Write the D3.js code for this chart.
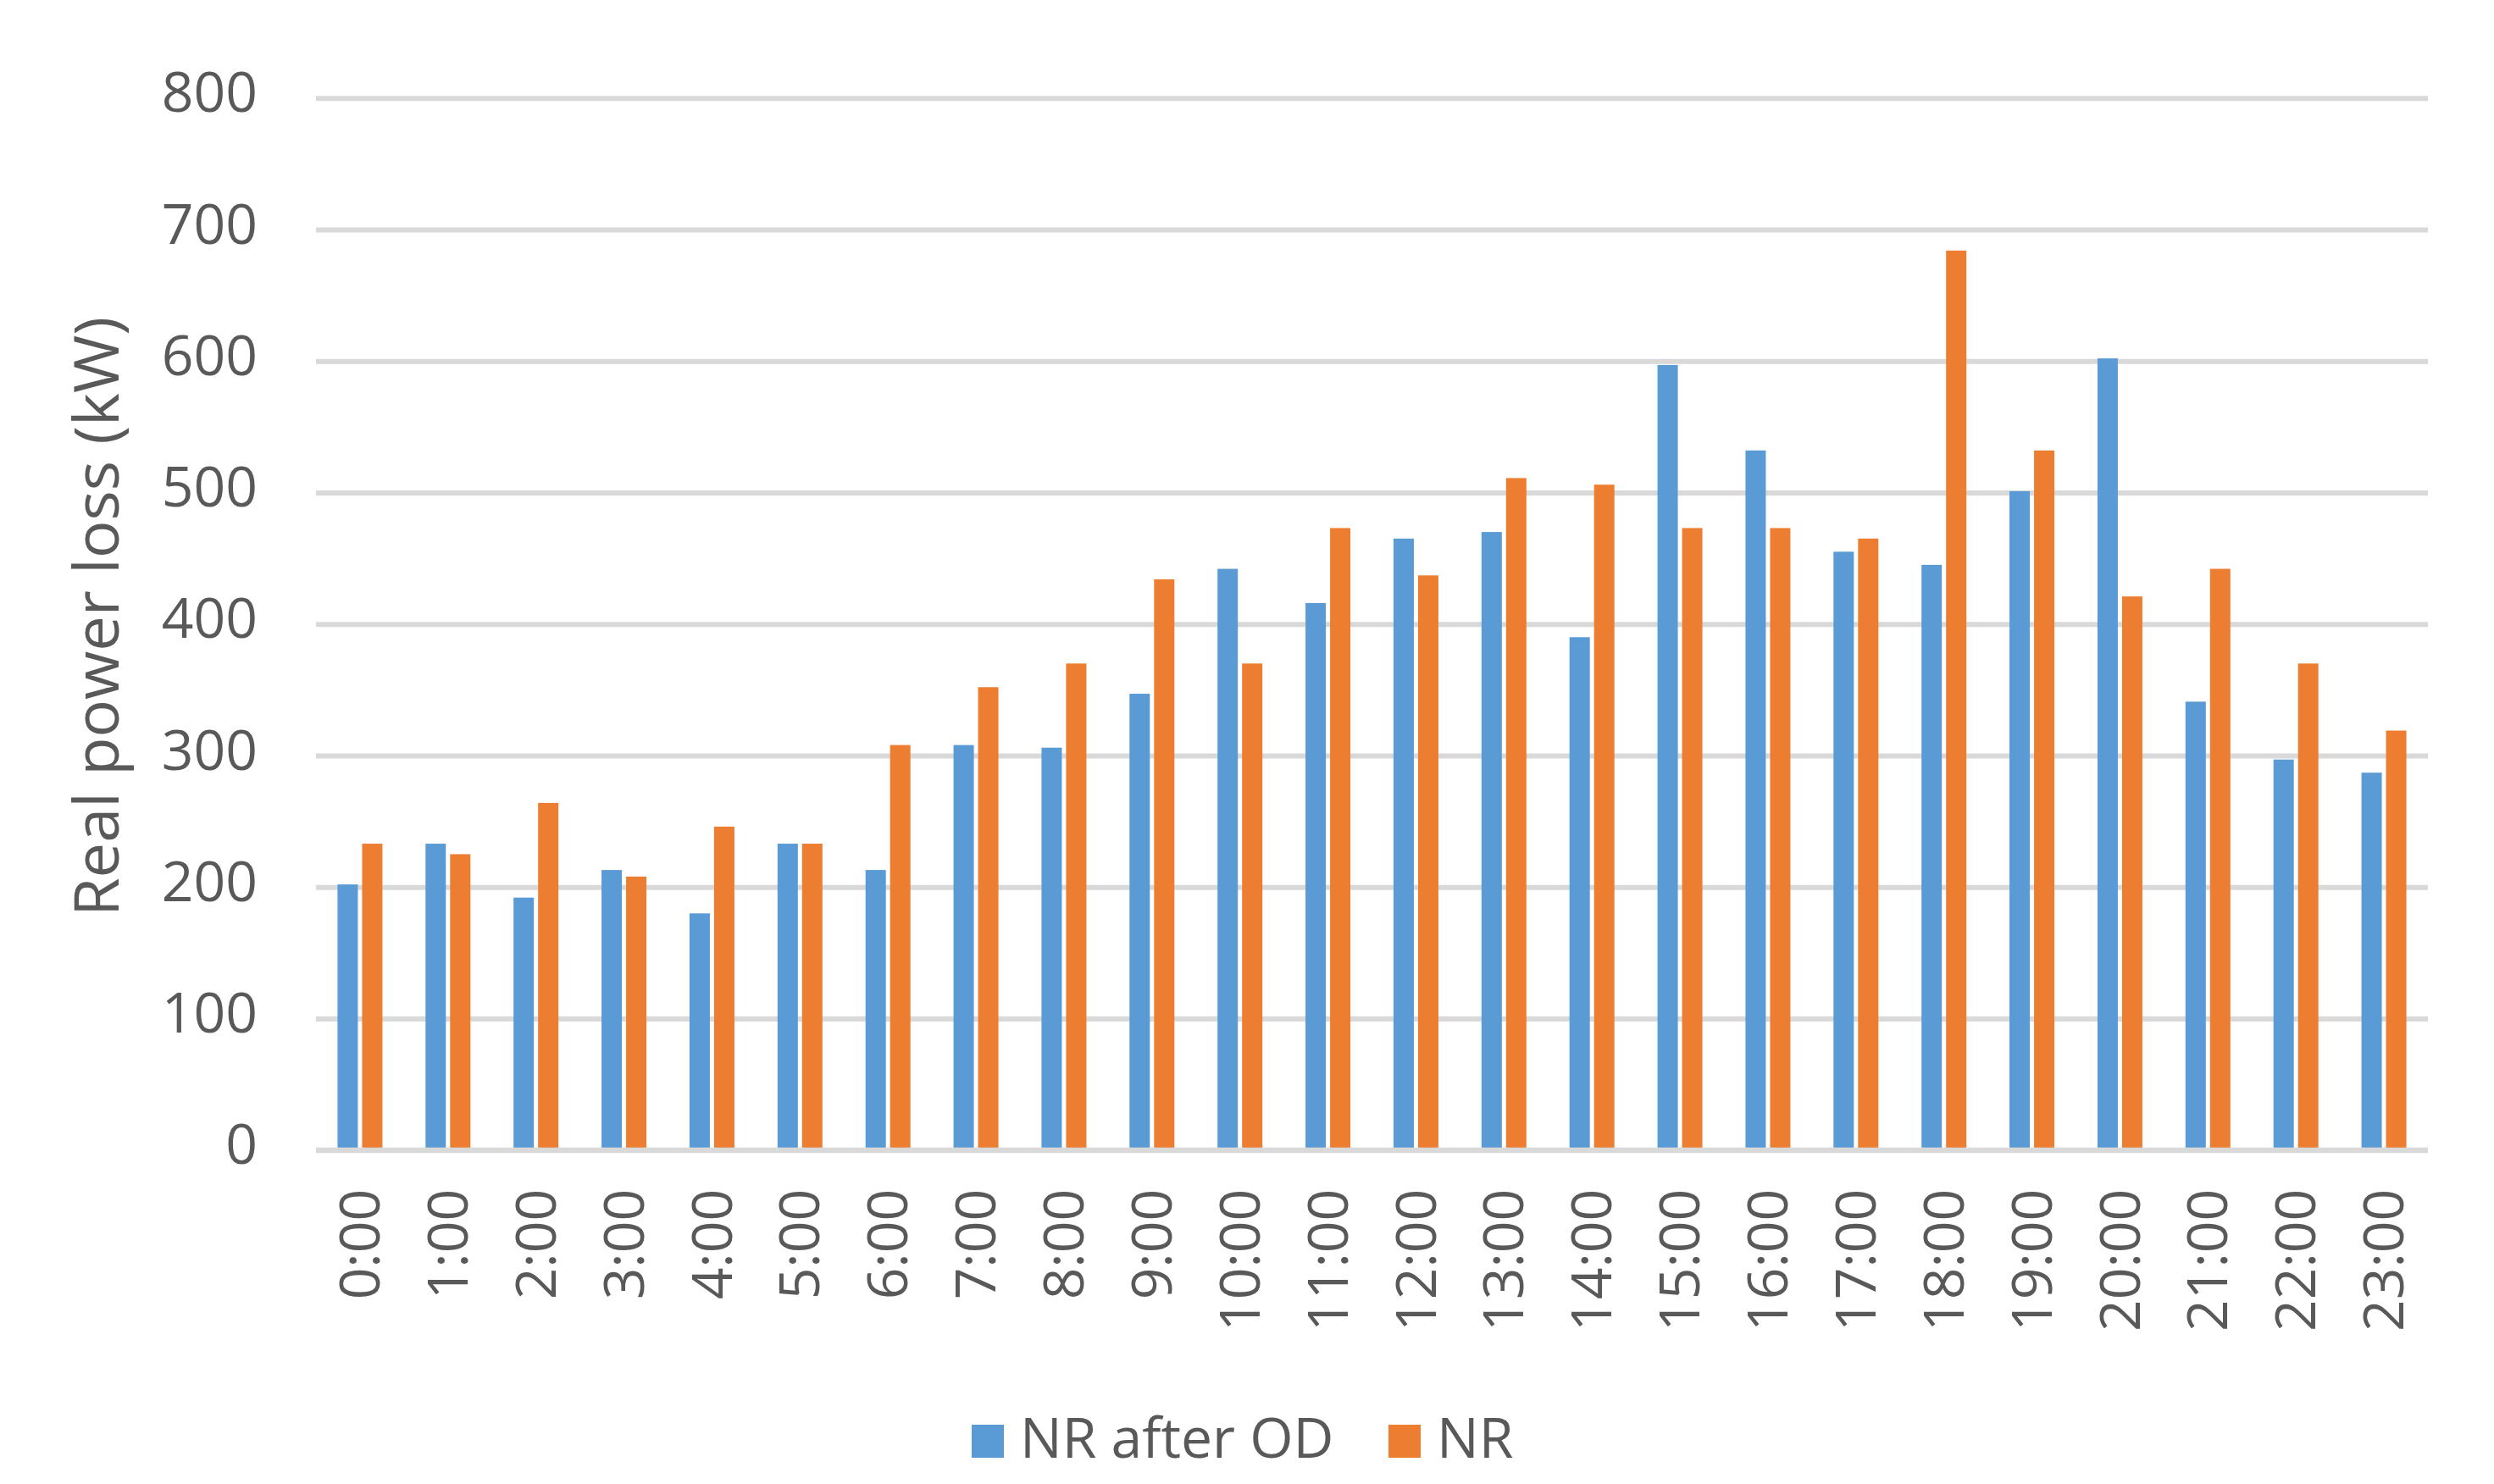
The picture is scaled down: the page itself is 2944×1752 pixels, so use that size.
<!DOCTYPE html>
<html>
<head>
<meta charset="utf-8">
<script src="https://cdn.jsdelivr.net/npm/d3@7"></script>
<style>
  html, body { margin: 0; padding: 0; background: #fff; }
  svg { display: block; }
  text { font-family: "Segoe UI", "Open Sans", sans-serif; fill: #595959; }
</style>
</head>
<body>
<svg id="chart" width="2944" height="1752"></svg>
<script>
const hours = ["0:00","1:00","2:00","3:00","4:00","5:00","6:00","7:00","8:00","9:00","10:00","11:00",
               "12:00","13:00","14:00","15:00","16:00","17:00","18:00","19:00","20:00","21:00","22:00","23:00"];
const seriesNames = ["NR after OD", "NR"];
const nrAfterOD = [202, 233, 192, 213, 180, 233, 213, 308, 306, 347, 442, 416,
                   465, 470, 390, 597, 532, 455, 445, 501, 602, 341, 297, 287];
const nr = [233, 225, 264, 208, 246, 233, 308, 352, 370, 434, 370, 473,
            437, 511, 506, 473, 473, 465, 684, 532, 421, 442, 370, 319];
const yTicks = [0, 100, 200, 300, 400, 500, 600, 700, 800];
const colors = ["#5B9BD5", "#ED7D31"];

const svg = d3.select("#chart");
const plotLeft = 373, plotRight = 2866, plotTop = 115.7, plotBottom = 1357.8;

const x = d3.scaleBand().domain(hours).range([plotLeft, plotRight]).padding(0);
const groupW = 53;
const x1 = d3.scaleBand().domain(seriesNames).range([0, groupW]).paddingInner(5 / 29).paddingOuter(0);
const y = d3.scaleLinear().domain([0, 800]).range([plotBottom, plotTop]);

// Y axis with gridlines
const yAxis = d3.axisLeft(y).tickValues(yTicks).tickSize(-(plotRight - plotLeft)).tickPadding(69).tickFormat(d3.format("d"));
const gy = svg.append("g").attr("transform", `translate(${plotLeft},0)`).call(yAxis);
gy.select(".domain").remove();
gy.selectAll(".tick line").attr("stroke", "#d9d9d9").attr("stroke-width", 6);
gy.selectAll(".tick text")
  .attr("font-size", 66)
  .attr("dy", "0.32em")
  .attr("y", -5)
  .style("font-family", "'Segoe UI','Open Sans',sans-serif")
  .attr("fill", "#595959");

// Bars
const data = hours.map((h, i) => ({ h, vals: [nrAfterOD[i], nr[i]] }));
const groups = svg.append("g").selectAll("g").data(data).join("g")
  .attr("transform", d => `translate(${x(d.h) + (x.bandwidth() - groupW) / 2},0)`);
groups.selectAll("rect").data(d => d.vals.map((v, k) => ({ k, v }))).join("rect")
  .attr("x", d => x1(seriesNames[d.k]))
  .attr("width", x1.bandwidth())
  .attr("y", d => y(d.v))
  .attr("height", d => y(0) - y(d.v))
  .attr("fill", d => colors[d.k]);

// zero line on top
svg.append("line")
  .attr("x1", plotLeft).attr("x2", plotRight)
  .attr("y1", y(0)).attr("y2", y(0))
  .attr("stroke", "#d9d9d9").attr("stroke-width", 6);

// X axis
const xAxis = d3.axisBottom(x).tickSize(0);
const gx = svg.append("g").attr("transform", `translate(0,${plotBottom})`).call(xAxis);
gx.select(".domain").remove();
gx.selectAll(".tick text")
  .attr("font-size", 66)
  .attr("transform", "rotate(-90)")
  .attr("x", -46)
  .attr("y", 0)
  .attr("dy", "0.35em")
  .attr("text-anchor", "end")
  .style("font-family", "'Segoe UI','Open Sans',sans-serif")
  .attr("fill", "#595959");

// Y title
svg.append("text")
  .attr("transform", "translate(140,728) rotate(-90)")
  .attr("text-anchor", "middle")
  .attr("font-size", 74)
  .text("Real power loss (kW)");

// Legend
const legendX = [1147, 1639];
const lg = svg.append("g").selectAll("g").data(seriesNames).join("g");
lg.append("rect")
  .attr("x", (d, i) => legendX[i]).attr("y", 1682)
  .attr("width", 38).attr("height", 39)
  .attr("fill", (d, i) => colors[i]);
lg.append("text")
  .attr("x", (d, i) => legendX[i] + 57).attr("y", 1721)
  .attr("font-size", 66)
  .text(d => d);
</script>
</body>
</html>
